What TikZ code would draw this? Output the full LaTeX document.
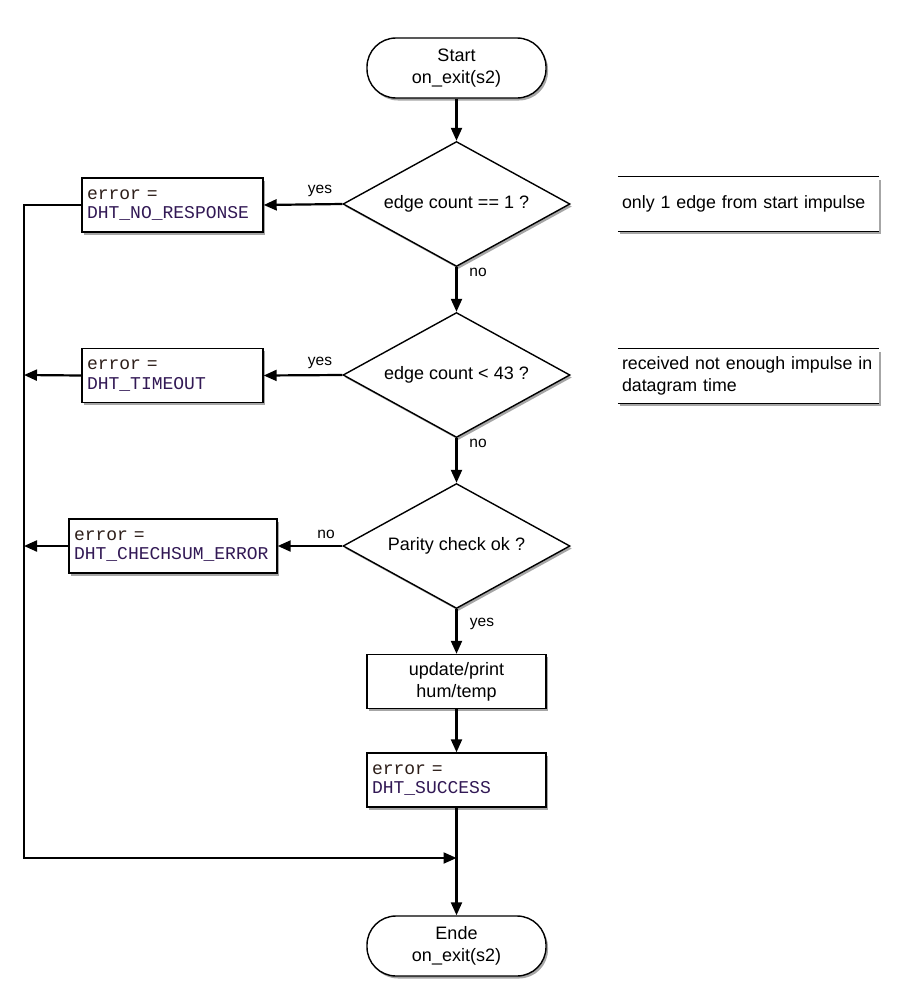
\documentclass[tikz,border=0pt]{standalone}
\usepackage{fontspec}
\setmainfont{Liberation Sans}
\setmonofont{Liberation Mono}
\usetikzlibrary{shapes.geometric,shadows,arrows.meta}
\definecolor{errc}{RGB}{45,30,25}
\definecolor{dhtc}{RGB}{50,25,85}
\tikzset{
  every node/.style={font=\fontsize{18}{22}\selectfont},
  shad/.style={drop shadow={shadow xshift=2pt,shadow yshift=-2.5pt,opacity=0.35,fill=black}},
  term/.style={draw=black,line width=1.4pt,fill=white,rounded corners=29pt,minimum width=179pt,minimum height=60pt,align=center,inner sep=0pt,shad},
  decision/.style={draw=black,line width=1.4pt,fill=white,diamond,shape aspect=1.816,minimum width=227pt,minimum height=125pt,inner sep=0pt,shad},
  procbox/.style={draw=black,line width=1.4pt,fill=white,minimum height=54pt,align=center,inner sep=0pt,shad},
  codebox/.style={draw=black,line width=1.4pt,fill=white,minimum height=54pt,align=left,inner xsep=5pt,inner ysep=0pt,shad,font=\ttfamily\fontsize{18}{19.5}\selectfont},
  notebox/.style={fill=white,minimum height=54pt,minimum width=261pt,align=left,inner xsep=4pt,inner ysep=0pt,shad,text width=253pt,font=\fontsize{17.8}{22}\selectfont},
  lbl/.style={font=\fontsize{15.5}{18}\selectfont,inner sep=0pt},
  arr/.style={line width=2.2pt,-{Triangle[length=13pt,width=11pt]}},
}
\newcommand{\errtxt}[1]{\textcolor{errc}{error =}\\\textcolor{dhtc}{#1}}
\begin{document}
\begin{tikzpicture}[x=1pt,y=-1pt]
\useasboundingbox[fill=white] (0,0) rectangle (909,1001);
\node[term] (start) at (456.5,68) {Start\\on\_exit(s2)};
\node[decision] (d1) at (456.5,204) {edge count == 1 ?};
\node[decision] (d2) at (456.5,375) {edge count < 43 ?};
\node[decision] (d3) at (456.5,546) {Parity check ok ?};
\node[codebox,minimum width=181pt,text width=171pt] (b1) at (172.5,205) {\errtxt{DHT\_NO\_RESPONSE}};
\node[codebox,minimum width=181pt,text width=171pt] (b2) at (172.5,375.5) {\errtxt{DHT\_TIMEOUT}};
\node[codebox,minimum width=208pt,text width=198pt] (b3) at (173,546) {\errtxt{DHT\_CHECHSUM\_ERROR}};
\node[procbox,minimum width=179pt] (upd) at (456.5,681.5) {update/print\\hum/temp};
\node[codebox,minimum width=179pt,text width=169pt] (b5) at (456.5,780) {\errtxt{DHT\_SUCCESS}};
\node[term] (ende) at (456.5,946) {Ende\\on\_exit(s2)};
\node[notebox] (n1) at (748.5,204) {only 1 edge from start impulse};
\node[notebox] (n2) at (748.5,376) {\mbox{received not enough impulse in}\\datagram time};
\draw[line width=1.2pt] (n1.north west) -- (n1.north east) (n1.south west) -- (n1.south east);
\draw[line width=1.2pt] (n2.north west) -- (n2.north east) (n2.south west) -- (n2.south east);
\coordinate (L1) at (24,205);
\coordinate (L2) at (24,375);
\coordinate (L3) at (24,546);
\coordinate (L4) at (24,858);
\coordinate (M) at (456.5,858);
\draw[arr] (start) -- (d1);
\draw[arr] (d1) -- (d2);
\draw[arr] (d2) -- (d3);
\draw[arr] (d3) -- (upd);
\draw[arr] (upd) -- (b5);
\draw[arr] (b5) -- (ende);
\draw[arr] (d1.west) -- (b1.east);
\draw[arr] (d2.west) -- (b2.east);
\draw[arr] (d3.west) -- (b3.east);
\draw[arr] (b1.west) -- (L1) -- (L4) -- (M);
\draw[arr] (b2.west) -- (L2);
\draw[arr] (b3.west) -- (L3);
\node[lbl] (y1) at (320,191) {yes};
\node[lbl] (y2) at (320,363) {yes};
\node[lbl] (n3l) at (326,534) {no};
\node[lbl] (no1) at (478,272) {no};
\node[lbl] (no2) at (478,443) {no};
\node[lbl] (y3) at (482,624) {yes};
\end{tikzpicture}
\end{document}
